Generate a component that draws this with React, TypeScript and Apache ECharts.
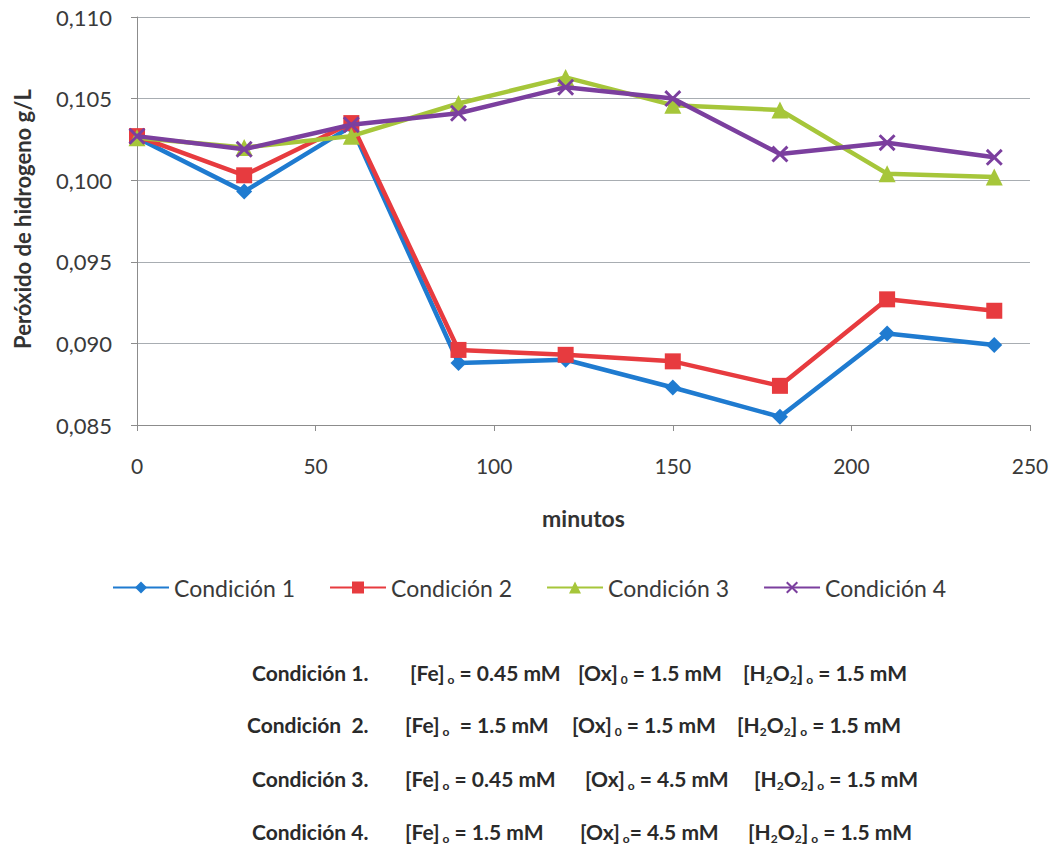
import React, { useEffect, useRef } from "react";
import * as echarts from "echarts";

const minutes = [0, 30, 60, 90, 120, 150, 180, 210, 240];
const cond1 = [0.1026, 0.0993, 0.1033, 0.0888, 0.0890, 0.0873, 0.0855, 0.0906, 0.0899];
const cond2 = [0.1027, 0.1003, 0.1035, 0.0896, 0.0893, 0.0889, 0.0874, 0.0927, 0.0920];
const cond3 = [0.1026, 0.1020, 0.1027, 0.1047, 0.1063, 0.1046, 0.1043, 0.1004, 0.1002];
const cond4 = [0.1027, 0.1019, 0.1034, 0.1041, 0.1057, 0.1050, 0.1016, 0.1023, 0.1014];
const seriesNames = ["Condición 1", "Condición 2", "Condición 3", "Condición 4"];
const colors = ["#1f7bd0", "#e73b3f", "#a6c63a", "#7b3f9e"];
const yMin = 0.085;
const yMax = 0.11;
const yStep = 0.005;
const xMax = 250;
const xStep = 50;
const yTitle = "Peróxido de hidrogeno g/L";
const xTitle = "minutos";

const condLabels = ["Condición 1.", "Condición  2.", "Condición 3.", "Condición 4."];
const feTexts = ["[Fe]{s| o} = 0.45 mM", "[Fe]{s| o}  = 1.5 mM", "[Fe]{s| o} = 0.45 mM", "[Fe]{s| o} = 1.5 mM"];
const oxTexts = ["[Ox]{s| 0} = 1.5 mM", "[Ox]{s| 0} = 1.5 mM", "[Ox]{s| o} = 4.5 mM", "[Ox]{s| o}= 4.5 mM"];
const h2o2Texts = ["[H{s|2}O{s|2}]{s| o} = 1.5 mM", "[H{s|2}O{s|2}]{s| o} = 1.5 mM", "[H{s|2}O{s|2}]{s| o} = 1.5 mM", "[H{s|2}O{s|2}]{s| o} = 1.5 mM"];

const xSymbol = "path://M0,1.2 L1.2,0 L5,3.8 L8.8,0 L10,1.2 L6.2,5 L10,8.8 L8.8,10 L5,6.2 L1.2,10 L0,8.8 L3.8,5 Z";
const symbols = ["diamond", "rect", "triangle", xSymbol];
const symbolSizes = [16, 16, 17, 17];

const FONT = "Lato, 'Noto Sans', sans-serif";

export default function App() {
  const ref = useRef<HTMLDivElement>(null);
  useEffect(() => {
    if (!ref.current) return;
    const chart = echarts.init(ref.current, undefined, { renderer: "svg" });
    const all = [cond1, cond2, cond3, cond4];
    const rowY = [672, 724, 778, 831];
    const condX = [252, 247, 252, 252];
    const feX = [410, 405, 405, 405];
    const oxX = [578, 572, 585, 580];
    const hX = [743, 737, 754, 748];
    const textStyleBase = {
      fontFamily: FONT,
      fontWeight: "bold" as const,
      fontSize: 21,
      fill: "#2a2a2a",
      rich: {
        s: { fontSize: 12, padding: [14, 0, 0, 0], fontWeight: "bold", fontFamily: FONT, fill: "#2a2a2a" },
      },
    };
    const graphics: any[] = [
      {
        type: "text",
        x: 22,
        y: 219,
        rotation: Math.PI / 2,
        style: {
          text: yTitle,
          fontFamily: FONT,
          fontWeight: "bold",
          fontSize: 22,
          fill: "#333",
          align: "center",
          verticalAlign: "middle",
        },
      },
    ];
    for (let i = 0; i < 4; i++) {
      graphics.push({ type: "text", x: condX[i], y: rowY[i], style: { ...textStyleBase, text: condLabels[i], verticalAlign: "middle" } });
      graphics.push({ type: "text", x: feX[i], y: rowY[i], style: { ...textStyleBase, text: feTexts[i], verticalAlign: "middle" } });
      graphics.push({ type: "text", x: oxX[i], y: rowY[i], style: { ...textStyleBase, text: oxTexts[i], verticalAlign: "middle" } });
      graphics.push({ type: "text", x: hX[i], y: rowY[i], style: { ...textStyleBase, text: h2o2Texts[i], verticalAlign: "middle" } });
    }
    chart.setOption({
      animation: false,
      backgroundColor: "#ffffff",
      grid: { left: 137, right: 25, top: 17, bottom: 422, containLabel: false },
      xAxis: {
        type: "value",
        min: 0,
        max: xMax,
        interval: xStep,
        name: xTitle,
        nameLocation: "middle",
        nameGap: 81,
        nameTextStyle: { fontFamily: FONT, fontWeight: "bold", fontSize: 23, color: "#333" },
        axisLine: { show: true, lineStyle: { color: "#8c8c8c", width: 1 } },
        axisTick: { show: true, inside: false, length: 6, lineStyle: { color: "#8c8c8c" } },
        axisLabel: { fontFamily: FONT, fontSize: 21, color: "#3a3a3a", margin: 30 },
        splitLine: { show: false },
      },
      yAxis: {
        type: "value",
        min: yMin,
        max: yMax,
        interval: yStep,
        axisLine: { show: true, lineStyle: { color: "#8c8c8c", width: 1 } },
        axisTick: { show: true, inside: false, length: 6, lineStyle: { color: "#8c8c8c" } },
        axisLabel: {
          fontFamily: FONT,
          fontSize: 22,
          color: "#3a3a3a",
          margin: 25,
          formatter: (v: number) => v.toFixed(3).replace(".", ","),
        },
        splitLine: { show: true, lineStyle: { color: "#a8adb2", width: 1 } },
      },
      legend: {
        show: true,
        left: 112,
        top: 576,
        padding: 0,
        itemWidth: 56,
        itemHeight: 15,
        itemGap: 34,
        textStyle: { fontFamily: FONT, fontSize: 23, color: "#3a3a3a" },
        data: seriesNames,
      },
      series: all.map((d, i) => ({
        name: seriesNames[i],
        type: "line",
        data: minutes.map((m, j) => [m, d[j]]),
        symbol: symbols[i],
        symbolSize: symbolSizes[i],
        lineStyle: { color: colors[i], width: 4.5 },
        itemStyle: { color: colors[i] },
        z: 2 + i,
      })),
      graphic: graphics,
    });
    return () => chart.dispose();
  }, []);
  return <div ref={ref} style={{ position: "absolute", left: 0, top: 0, width: 1055, height: 847 }} />;
}
